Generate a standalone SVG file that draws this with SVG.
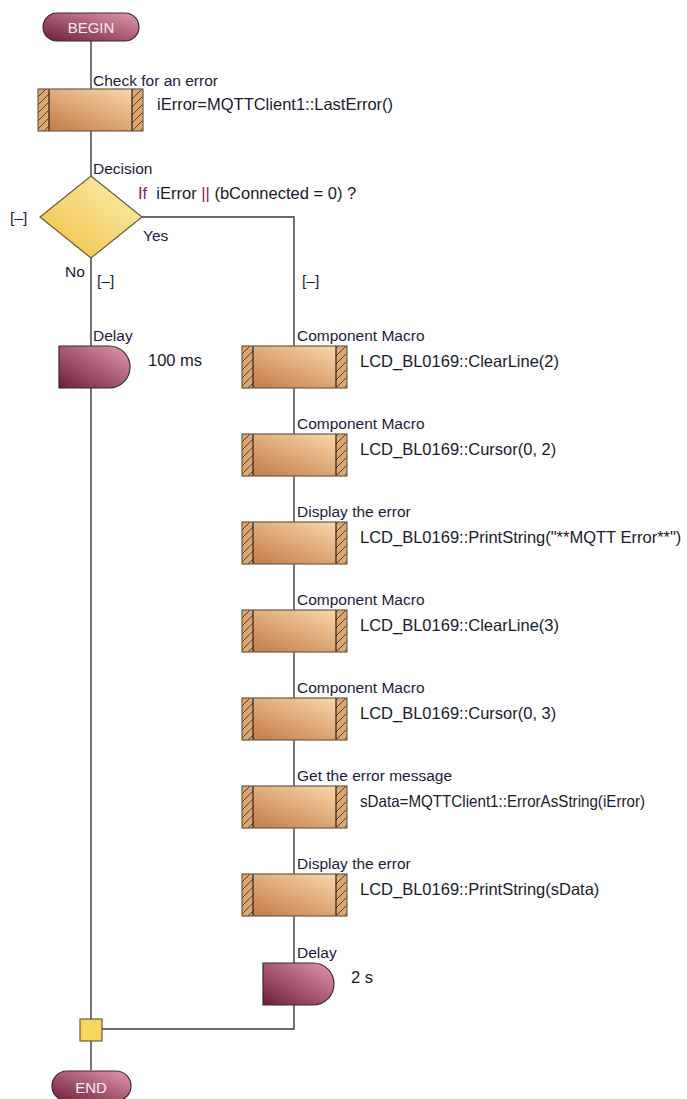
<svg xmlns="http://www.w3.org/2000/svg" width="687" height="1099" viewBox="0 0 687 1099">
  <defs>
    <linearGradient id="gTerm" x1="0" y1="1" x2="1" y2="0">
      <stop offset="0" stop-color="#6e1d38"/>
      <stop offset="1" stop-color="#e29ab0"/>
    </linearGradient>
    <linearGradient id="gProc" x1="0" y1="1" x2="1" y2="0">
      <stop offset="0" stop-color="#c07642"/>
      <stop offset="1" stop-color="#fddcae"/>
    </linearGradient>
    <linearGradient id="gDec" x1="0" y1="1" x2="1" y2="0">
      <stop offset="0" stop-color="#f0bf3c"/>
      <stop offset="1" stop-color="#fdf0b8"/>
    </linearGradient>
    <pattern id="hatch" patternUnits="userSpaceOnUse" width="8" height="8">
      <rect width="8" height="8" fill="#dca772"/>
      <path d="M-1,9 L9,-1 M-4,4 L4,-4 M4,12 L12,4" stroke="#5c3b1f" stroke-width="1"/>
    </pattern>
    <g id="proc">
      <rect x="0" y="0" width="105" height="42" fill="url(#gProc)"/>
      <rect x="0" y="0" width="11" height="42" fill="url(#hatch)"/>
      <rect x="94" y="0" width="11" height="42" fill="url(#hatch)"/>
      <path d="M11,0 V42 M94,0 V42" stroke="#2a1f1a" stroke-width="1.2"/>
      <rect x="0" y="0" width="105" height="42" fill="none" stroke="#6b5a4a" stroke-width="1.2"/>
    </g>
  </defs>
  <style>
    text { font-family: "Liberation Sans", Arial, sans-serif; font-size: 15.5px; fill: #1c1c3a; }
    .code { font-size: 16.5px; fill: #1a1a2a; }
    .term { fill: #f6ecf2; font-size: 15px; }
    .em { fill: #7a1f5c; }
    .wire { fill: none; stroke: #3a3a3a; stroke-width: 1.4; }
    .outline { stroke: #3a2a2a; stroke-width: 1.2; }
  </style>

  <rect width="687" height="1099" fill="#ffffff"/>

  <!-- connectors -->
  <g id="connectors" class="wire">
    <path d="M91,40 V89"/>
    <path d="M91,131 V176"/>
    <path d="M91,258 V346"/>
    <path d="M91,388 V1019"/>
    <path d="M91,1041 V1070"/>
    <path d="M142,217 H294 V346"/>
    <path d="M294,388 V434 M294,476 V522 M294,564 V610 M294,652 V698 M294,740 V786 M294,828 V874 M294,916 V963"/>
    <path d="M294,1005 V1029 H102"/>
  </g>

  <!-- start -->
  <g id="begin">
    <rect x="43" y="13" width="96" height="28" rx="14" fill="url(#gTerm)" class="outline"/>
    <text x="91" y="33" text-anchor="middle" class="term">BEGIN</text>
  </g>

  <!-- read the last MQTT error -->
  <g id="check-error">
    <use href="#proc" x="38" y="89"/>
    <text x="93" y="86">Check for an error</text>
    <text x="157" y="110" class="code">iError=MQTTClient1::LastError()</text>
  </g>

  <!-- branch on error / disconnected -->
  <g id="decision">
    <polygon points="91,176 142,217 91,258 40,217" fill="url(#gDec)" stroke="#6b5a3a" stroke-width="1.2"/>
    <text x="93" y="174">Decision</text>
    <text x="138" y="199" class="code" xml:space="preserve"><tspan class="em">If</tspan>  iError <tspan class="em">||</tspan> (bConnected = 0) ?</text>
    <text x="143" y="241">Yes</text>
    <text x="10" y="223">[–]</text>
    <text x="65" y="277">No</text>
    <text x="97" y="286">[–]</text>
    <text x="302" y="286">[–]</text>
  </g>

  <!-- no-error path -->
  <g id="delay-100ms">
    <path d="M59,346 H109 A21,21 0 0 1 109,388 H59 Z" fill="url(#gTerm)" class="outline"/>
    <text x="93" y="341">Delay</text>
    <text x="148" y="366" class="code">100 ms</text>
  </g>

  <!-- error path -->
  <g id="clear-line-2">
    <use href="#proc" x="242" y="346"/>
    <text x="297" y="341">Component Macro</text>
    <text x="360" y="367" class="code">LCD_BL0169::ClearLine(2)</text>
  </g>
  <g id="cursor-0-2">
    <use href="#proc" x="242" y="434"/>
    <text x="297" y="429">Component Macro</text>
    <text x="360" y="455" class="code">LCD_BL0169::Cursor(0, 2)</text>
  </g>
  <g id="print-header">
    <use href="#proc" x="242" y="522"/>
    <text x="297" y="517">Display the error</text>
    <text x="360" y="543" class="code">LCD_BL0169::PrintString("**MQTT Error**")</text>
  </g>
  <g id="clear-line-3">
    <use href="#proc" x="242" y="610"/>
    <text x="297" y="605">Component Macro</text>
    <text x="360" y="631" class="code">LCD_BL0169::ClearLine(3)</text>
  </g>
  <g id="cursor-0-3">
    <use href="#proc" x="242" y="698"/>
    <text x="297" y="693">Component Macro</text>
    <text x="360" y="719" class="code">LCD_BL0169::Cursor(0, 3)</text>
  </g>
  <g id="error-string">
    <use href="#proc" x="242" y="786"/>
    <text x="297" y="781">Get the error message</text>
    <text x="360" y="807" class="code" textLength="285" lengthAdjust="spacingAndGlyphs">sData=MQTTClient1::ErrorAsString(iError)</text>
  </g>
  <g id="print-error">
    <use href="#proc" x="242" y="874"/>
    <text x="297" y="869">Display the error</text>
    <text x="360" y="895" class="code">LCD_BL0169::PrintString(sData)</text>
  </g>
  <g id="delay-2s">
    <path d="M263,963 H313 A21,21 0 0 1 313,1005 H263 Z" fill="url(#gTerm)" class="outline"/>
    <text x="297" y="958">Delay</text>
    <text x="351" y="983" class="code">2 s</text>
  </g>

  <!-- merge point -->
  <g id="junction">
    <rect x="80" y="1019" width="22" height="22" fill="#f8d65c" stroke="#6b5a3a" stroke-width="1.2"/>
  </g>

  <!-- end -->
  <g id="end">
    <rect x="52" y="1071" width="79" height="30" rx="15" fill="url(#gTerm)" class="outline"/>
    <text x="91" y="1093" text-anchor="middle" class="term">END</text>
  </g>
</svg>
